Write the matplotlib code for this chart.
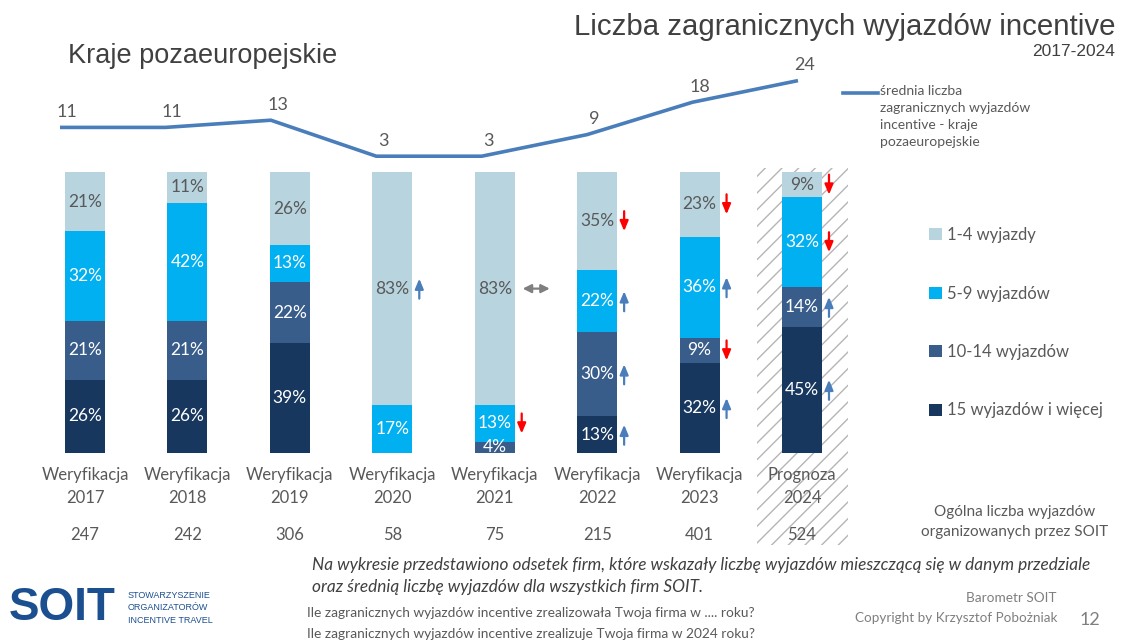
import matplotlib
matplotlib.use("Agg")
import matplotlib.pyplot as plt
import matplotlib.transforms as mtransforms
from matplotlib.patches import Rectangle, Patch
from matplotlib.lines import Line2D

# ---------------- data ----------------
years = ["2017", "2018", "2019", "2020", "2021", "2022", "2023", "2024"]
kinds = ["Weryfikacja"] * 7 + ["Prognoza"]
totals = [247, 242, 306, 58, 75, 215, 401, 524]
avg_trips = [11, 11, 13, 3, 3, 9, 18, 24]

series_names = ["15 wyjazdów i więcej", "10-14 wyjazdów", "5-9 wyjazdów", "1-4 wyjazdy"]
s15 = [26, 26, 39, 0, 0, 13, 32, 45]
s10 = [21, 21, 22, 0, 4, 30, 9, 14]
s5 = [32, 42, 13, 17, 13, 22, 36, 32]
s1 = [21, 11, 26, 83, 83, 35, 23, 9]

t15 = ["", "", "", "", "", "up", "up", "up"]
t10 = ["", "", "", "", "", "up", "down", "up"]
t5 = ["", "", "", "", "down", "up", "up", "down"]
t1 = ["", "", "", "up", "both", "down", "down", "down"]

line_label = "średnia liczba\nzagranicznych wyjazdów\nincentive - kraje\npozaeuropejskie"

# ---------------- style ----------------
W, H = 1131, 644
plt.rcParams["hatch.linewidth"] = 1.0
fig = plt.figure(figsize=(W / 100, H / 100), dpi=100)
fig.patch.set_facecolor("white")

FONT = ["Lato", "DejaVu Sans"]
ARIAL = ["Liberation Sans", "DejaVu Sans"]
GRAY = "#595959"
colors = ["#17375e", "#385d8a", "#00b0f0", "#b7d4df"]
label_colors = ["white", "white", "white", GRAY]
LINE_C = "#4a7ebb"


def fx(px):
    return px / W


def fy(py):
    return 1 - py / H


# bar axes
ax = fig.add_axes([fx(33.8), fy(453), fx(853.2 - 33.8), (453 - 172) / H])
ax.set_xlim(-0.5, 7.5)
ax.set_ylim(0, 100)
ax.patch.set_visible(False)
for s in ax.spines.values():
    s.set_visible(False)
ax.set_yticks([])

xs = list(range(len(years)))
series = [s15, s10, s5, s1]
trends = [t15, t10, t5, t1]
bottom = [0] * len(years)
bw = 0.39
for vals, col, lc, tr in zip(series, colors, label_colors, trends):
    ax.bar(xs, vals, bw, bottom=bottom, color=col, edgecolor="none", zorder=2)
    for i, (v, b) in enumerate(zip(vals, bottom)):
        if v <= 0:
            continue
        yc = b + v / 2
        ax.text(i, yc, f"{v}%", ha="center", va="center", color=lc,
                fontsize=12.5, family=FONT, zorder=3, clip_on=True)
        d = tr[i]
        if d in ("up", "down"):
            head = mtransforms.offset_copy(ax.transData, fig=fig, x=27 * 0.72,
                                           y=(10 if d == "up" else -10) * 0.72, units="points")
            tail = mtransforms.offset_copy(ax.transData, fig=fig, x=27 * 0.72,
                                           y=(-10 if d == "up" else 10) * 0.72, units="points")
            ax.annotate("", xy=(i, yc), xycoords=head, xytext=(i, yc), textcoords=tail,
                        arrowprops=dict(arrowstyle="-|>,head_length=0.6,head_width=0.25",
                                        color=(LINE_C if d == "up" else "#ff0000"),
                                        lw=1.6, shrinkA=0, shrinkB=0), zorder=4,
                        annotation_clip=False)
        elif d == "both":
            left = mtransforms.offset_copy(ax.transData, fig=fig, x=28 * 0.72, y=0, units="points")
            right = mtransforms.offset_copy(ax.transData, fig=fig, x=55 * 0.72, y=0, units="points")
            ax.annotate("", xy=(i, yc), xycoords=right, xytext=(i, yc), textcoords=left,
                        arrowprops=dict(arrowstyle="<|-|>,head_length=0.5,head_width=0.25",
                                        color="#7f7f7f", lw=1.6, shrinkA=0, shrinkB=0),
                        zorder=4, annotation_clip=False)
    bottom = [b + v for b, v in zip(bottom, vals)]

# x labels
ax.set_xticks(xs)
ax.set_xticklabels([f"{k}\n{y}" for k, y in zip(kinds, years)], family=FONT,
                   fontsize=12, color=GRAY, linespacing=1.55)
ax.tick_params(axis="x", length=0, pad=10)

# totals row
blend = mtransforms.blended_transform_factory(ax.transData, fig.transFigure)
for i, t in enumerate(totals):
    ax.text(i, fy(535), str(t), transform=blend, ha="center", va="center",
            fontsize=12, color=GRAY, family=FONT, clip_on=False)

# hatched forecast background
rect = Rectangle((7 - 0.44, fy(545)), 0.89, fy(168) - fy(545), transform=blend,
                 facecolor="white", edgecolor="#b5b5b5", hatch="//", lw=0,
                 zorder=0, clip_on=False)
ax.add_patch(rect)

# legend for bars
handles = [Patch(facecolor=c, edgecolor="none") for c in colors[::-1]]
fig.legend(handles, series_names[::-1], loc="upper left",
           bbox_to_anchor=(fx(929), fy(227)), frameon=False,
           prop=dict(family=FONT, size=12), labelcolor=GRAY,
           handlelength=0.75, handleheight=0.75, handletextpad=0.35,
           labelspacing=2.55, borderpad=0, borderaxespad=0)

# line axes
lax = fig.add_axes([fx(7.3), fy(167), fx(843.4), 108 / H])
lax.set_xlim(-0.5, 7.5)
lax.set_ylim(0, 30)
lax.axis("off")
lax.plot(xs, avg_trips, color=LINE_C, lw=2.6, solid_capstyle="butt", solid_joinstyle="round")
for i, v in enumerate(avg_trips):
    lax.annotate(str(v), (i, v), xytext=(5, 11), textcoords="offset points",
                 ha="center", va="center", fontsize=13, color=GRAY, family=FONT)

# line legend (manual)
fig.add_artist(Line2D([fx(843), fx(878)], [fy(93), fy(93)], color=LINE_C, lw=2.6))
fig.text(fx(880), fy(85), line_label, ha="left", va="top", fontsize=10, color=GRAY,
         family=FONT, linespacing=1.5, transform=fig.transFigure)

# titles
fig.text(fx(1115), fy(27), "Liczba zagranicznych wyjazdów incentive", ha="right", va="center",
         fontsize=21.2, color="#404040", family=ARIAL)
fig.text(fx(1115), fy(51), "2017-2024", ha="right", va="center",
         fontsize=12.5, color="#404040", family=ARIAL)
fig.text(fx(68), fy(56), "Kraje pozaeuropejskie", ha="left", va="center",
         fontsize=19.5, color="#404040", family=ARIAL)

# right side note
fig.text(fx(1015), fy(522), "Ogólna liczba wyjazdów\norganizowanych przez SOIT", ha="center",
         va="center", fontsize=11, color=GRAY, family=FONT, linespacing=1.55)

# footnote
fig.text(fx(312), fy(565), "Na wykresie przedstawiono odsetek firm, które wskazały liczbę wyjazdów "
         "mieszczącą się w danym przedziale",
         ha="left", va="center", fontsize=12.4, style="italic", color="#404040", family=FONT)
fig.text(fx(312), fy(587), "oraz średnią liczbę wyjazdów dla wszystkich firm SOIT.",
         ha="left", va="center", fontsize=12.4, style="italic", color="#404040", family=FONT)
fig.text(fx(307), fy(613), "Ile zagranicznych wyjazdów incentive zrealizowała Twoja firma w .... roku?",
         ha="left", va="center", fontsize=9.9, color=GRAY, family=FONT)
fig.text(fx(307), fy(634), "Ile zagranicznych wyjazdów incentive zrealizuje Twoja firma w 2024 roku?",
         ha="left", va="center", fontsize=9.9, color=GRAY, family=FONT)
fig.text(fx(1057), fy(598), "Barometr SOIT", ha="right", va="center", fontsize=9.8,
         color="#7f7f7f", family=FONT)
fig.text(fx(1057), fy(618), "Copyright by Krzysztof Pobożniak", ha="right", va="center",
         fontsize=9.7, color="#7f7f7f", family=FONT)
fig.text(fx(1080), fy(620), "12", ha="left", va="center", fontsize=13,
         color="#7f7f7f", family=FONT)

# logo
fig.text(fx(9), fy(608), "SOIT", ha="left", va="center", fontsize=33, fontweight="bold",
         color="#1b4f8f", family=ARIAL)
fig.text(fx(128), fy(608), "STOWARZYSZENIE\nORGANIZATORÓW\nINCENTIVE TRAVEL", ha="left",
         va="center", fontsize=6.5, color="#1b4f8f", family=ARIAL, linespacing=1.5)

fig.savefig("out.png", dpi=100, facecolor="white")
